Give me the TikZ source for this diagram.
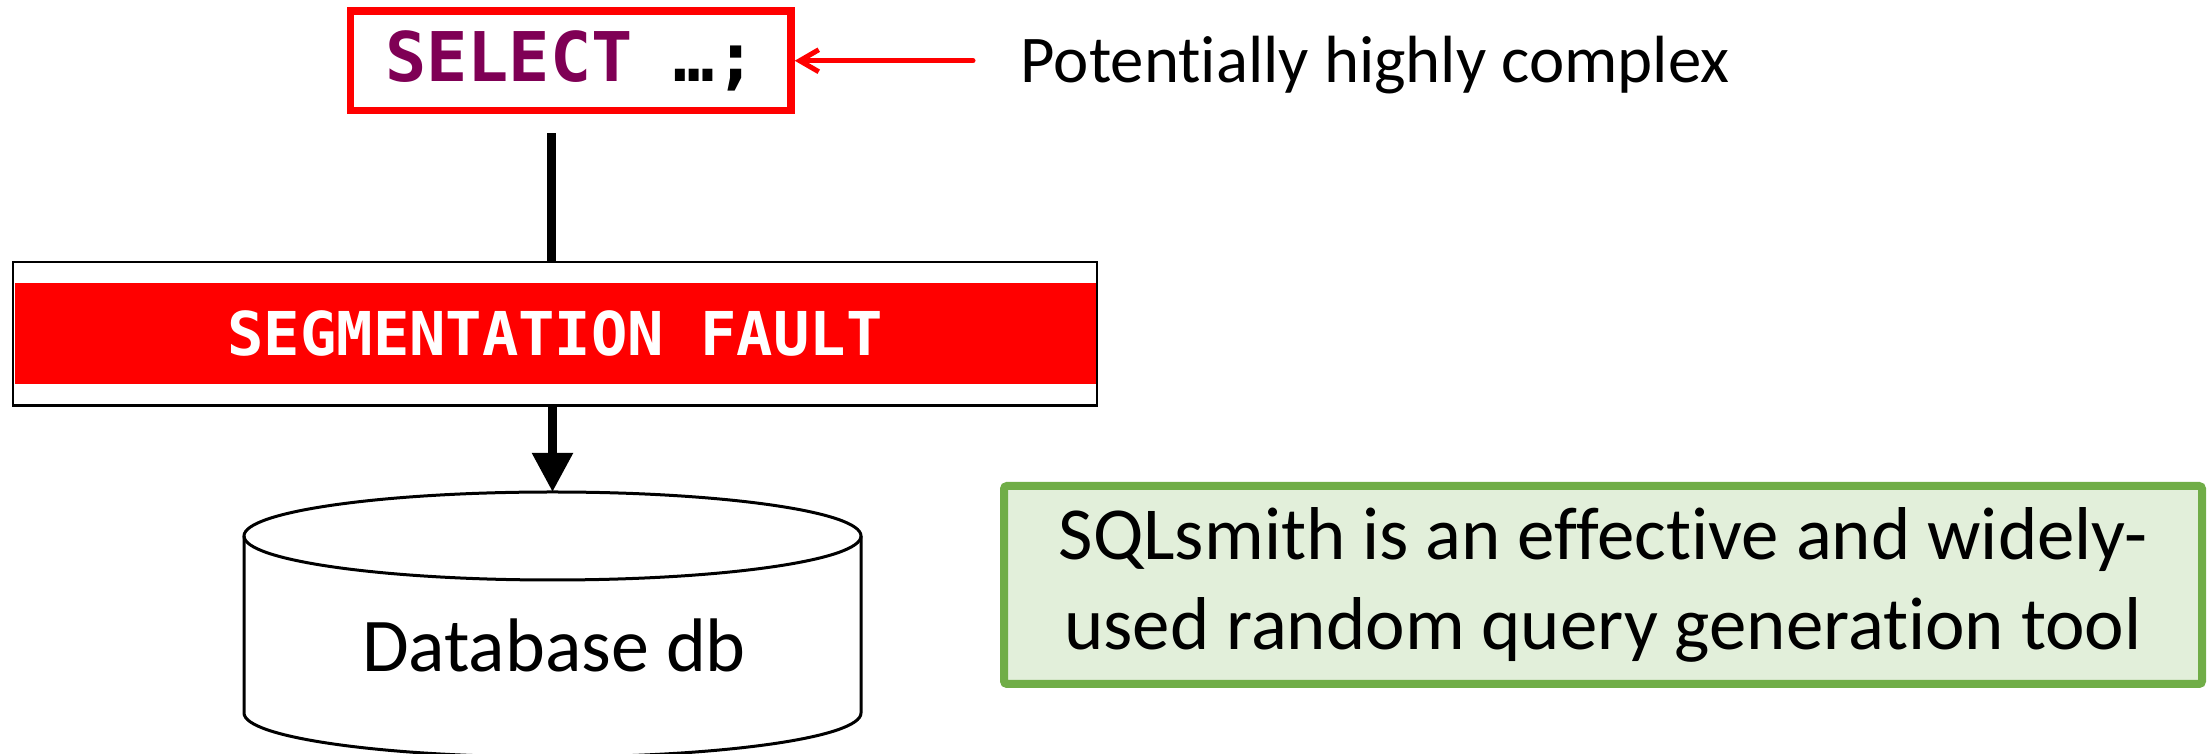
\documentclass[tikz,border=0pt]{standalone}
\usepackage{fontspec}
\setmainfont{Carlito}[Ligatures={NoCommon}, Contextuals={NoAlternate}]
\setmonofont{DejaVu Sans Mono}
\usetikzlibrary{arrows.meta, positioning, calc}
\definecolor{sqlpurple}{RGB}{127, 0, 85}
\definecolor{alertred}{RGB}{255, 0, 0}
\definecolor{toolgreen}{RGB}{112, 173, 71}
\definecolor{toolfill}{RGB}{226, 239, 218}

\begin{document}
\begin{tikzpicture}[
    every node/.style={inner sep=0pt},
    query/.style={draw=alertred, line width=0.075cm, minimum width=4.405cm, minimum height=0.995cm,
      font=\fontsize{19.5}{23}\selectfont\ttfamily\bfseries},
    crash/.style={draw=black, fill=white, line width=0.025cm, minimum width=10.835cm, minimum height=1.435cm},
    faultbar/.style={fill=alertred, text=white, minimum width=10.81cm, minimum height=1.01cm,
      font=\fontsize{17.2}{20}\selectfont\ttfamily\bfseries},
    remark/.style={font=\fontsize{19}{23}\selectfont},
    dblabel/.style={font=\fontsize{21.6}{26}\selectfont},
    summary/.style={draw=toolgreen, fill=toolfill, line width=0.08cm, rounded corners=0.03cm,
      minimum width=11.98cm, minimum height=1.98cm, align=center, font=\fontsize{21.3}{25.6}\selectfont},
    dbline/.style={line width=0.03cm},
    link/.style={line width=0.085cm},
    pointer/.style={-{Straight Barb[length=1.9mm, width=2.2mm]}, alertred, line width=0.05cm, line cap=round},
]
  \useasboundingbox (0,0) rectangle (22.12,7.54);

  % Query
  \node[query] (query) at (5.7075,6.9325) {\textcolor{sqlpurple}{SELECT} …;};
  \node[remark, anchor=base west] (note) at (10.20,6.71) {Potentially highly complex};
  \draw[pointer, shorten <=0.47cm] (note.west |- query.east) -- (query.east);

  % Crash
  \node[crash] (crash) at (5.55,4.20) {};
  \node[faultbar] (fault) at (crash.center) {SEGMENTATION FAULT};
  \draw[link, shorten <=0.19cm] ([xshift=-0.035cm]crash.north |- query.south) -- ([xshift=-0.035cm]crash.north);

  % Database
  \coordinate (dbtop) at (5.525,2.62);
  \draw[dbline] (5.525,2.18) ellipse [x radius=3.085, y radius=0.44];
  \draw[dbline] (2.44,2.18) -- (2.44,0.41)
    arc[start angle=180, end angle=360, x radius=3.085, y radius=0.44] -- (8.61,2.18);
  \node[dblabel, anchor=base] (db) at (5.54,0.82) {Database db};
  \draw[link, -{Triangle[length=3.9mm, width=3.9mm]}] (crash.south -| dbtop) -- (dbtop);

  % SQLsmith
  \node[summary] (smith) at (16.03,1.69) {SQLsmith is an effective and widely-\\used random query generation tool};
\end{tikzpicture}
\end{document}
